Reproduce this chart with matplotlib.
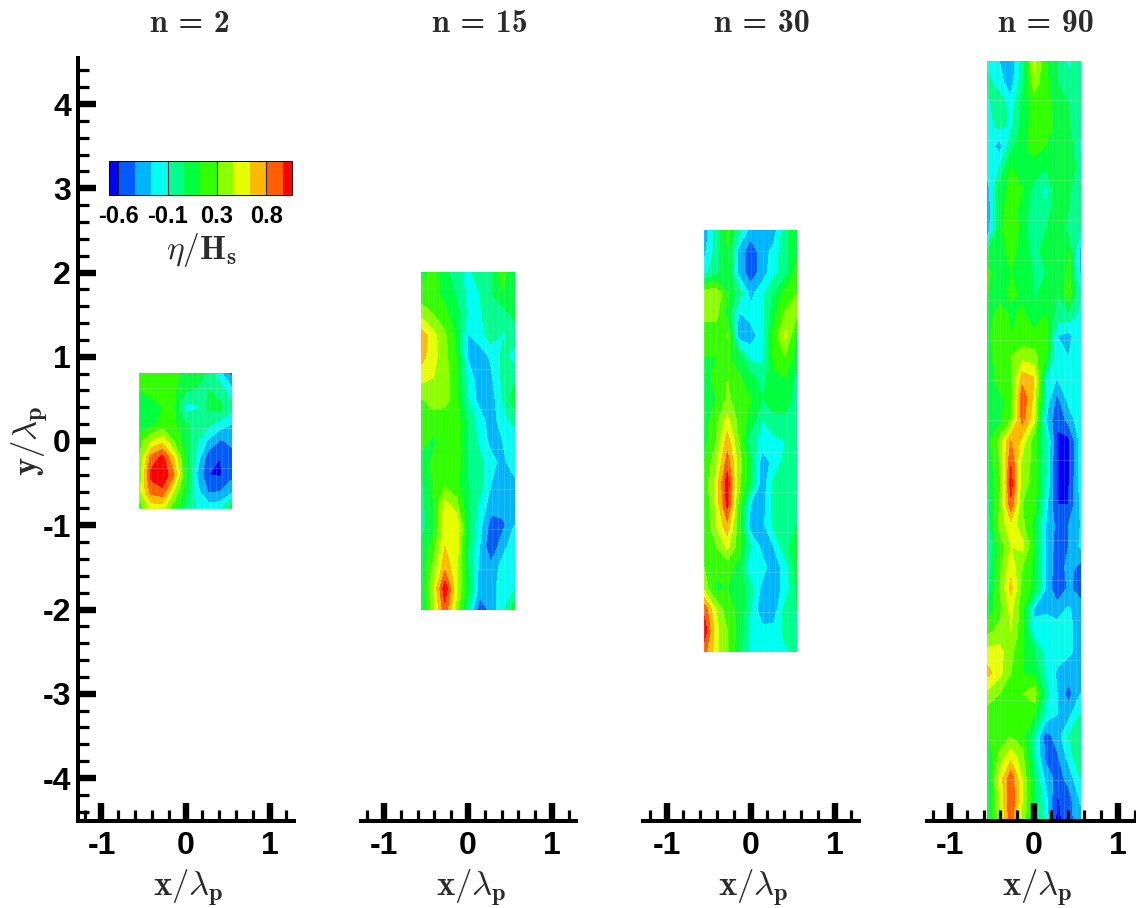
import numpy as np
import matplotlib
matplotlib.use("Agg")
import matplotlib.pyplot as plt
from matplotlib.colors import ListedColormap, BoundaryNorm
from matplotlib.colorbar import ColorbarBase

plt.rcParams['mathtext.fontset'] = 'cm'
plt.rcParams['font.family'] = ['Liberation Sans', 'DejaVu Sans']

W, H = 1136, 908

titles = ["n = 2", "n = 15", "n = 30", "n = 90"]
x_grid = [-0.55, -0.41, -0.275, -0.14, 0.0, 0.14, 0.275, 0.41, 0.55]

# y extent of each measured patch
y_tops = [0.8, 2.0, 2.5, 4.5]

levels = [-0.6, -0.45, -0.3, -0.15, 0.0, 0.15, 0.3, 0.45, 0.6, 0.75, 0.9]
colors = ["#0000ff", "#005aff", "#00b4ff", "#00fff0", "#00ff8c", "#00ff3c",
          "#32ff00", "#8cff00", "#e6ff00", "#ffb900", "#ff5f00", "#ff0000"]
bar_edges = [-0.68] + levels + [0.98]
bar_ticks = [-0.6, -0.15, 0.3, 0.75]
bar_labels = ["-0.6", "-0.1", "0.3", "0.8"]

# eta/Hs, rows from top to bottom
eta_n2 = [
    [0.2, 0.25, 0.22, 0.2, 0.1, 0.12, -0.05, -0.25, -0.5],
    [0.15, 0.18, 0.2, 0.18, 0.02, -0.03, 0.0, -0.08, -0.25],
    [0.05, 0.1, 0.15, 0.15, -0.22, -0.17, 0.03, 0.05, -0.1],
    [0.03, 0.1, 0.2, 0.18, 0.02, -0.05, -0.12, -0.22, -0.3],
    [0.25, 0.45, 0.55, 0.3, 0.05, -0.15, -0.33, -0.47, -0.42],
    [0.3, 0.8, 0.95, 0.6, 0.1, -0.22, -0.55, -0.6, -0.5],
    [0.35, 0.95, 1.05, 0.75, 0.15, -0.33, -0.6, -0.62, -0.5],
    [0.4, 0.8, 0.85, 0.45, 0.08, -0.25, -0.47, -0.45, -0.35],
    [0.2, 0.5, 0.5, 0.2, 0.0, -0.2, -0.22, -0.2, 0.1],
]
eta_n15 = [
    [0.1, 0.2, 0.05, -0.1, -0.2, -0.05, 0.0, 0.2, 0.05],
    [0.2, 0.22, 0.08, -0.02, -0.2, -0.15, 0.0, 0.15, 0.1],
    [0.4, 0.3, 0.2, 0.05, -0.18, -0.18, -0.02, -0.1, 0.05],
    [0.68, 0.5, 0.33, 0.12, -0.32, -0.22, -0.08, -0.17, -0.1],
    [0.65, 0.5, 0.35, 0.15, -0.32, -0.4, -0.27, -0.12, -0.2],
    [0.5, 0.45, 0.4, 0.15, -0.2, -0.4, -0.33, -0.12, -0.05],
    [0.3, 0.35, 0.38, 0.2, -0.15, -0.38, -0.38, -0.15, 0.1],
    [0.22, 0.25, 0.18, 0.25, -0.05, -0.22, -0.4, -0.2, -0.1],
    [0.2, 0.12, 0.2, 0.22, 0.0, -0.2, -0.35, -0.3, -0.25],
    [0.08, 0.18, 0.25, 0.25, -0.02, -0.1, -0.25, -0.35, -0.2],
    [-0.02, 0.18, 0.25, 0.2, 0.0, -0.08, -0.3, -0.32, -0.35],
    [-0.05, 0.15, 0.5, 0.35, 0.02, -0.18, -0.38, -0.35, -0.35],
    [-0.05, 0.1, 0.55, 0.6, 0.02, -0.25, -0.52, -0.5, -0.3],
    [0.03, 0.22, 0.6, 0.55, 0.0, -0.3, -0.6, -0.35, -0.22],
    [0.03, 0.35, 0.7, 0.5, 0.0, -0.35, -0.4, -0.25, -0.2],
    [0.05, 0.45, 1.0, 0.5, 0.05, -0.38, -0.38, -0.2, -0.18],
    [-0.03, 0.4, 0.85, 0.4, -0.1, -0.55, -0.4, -0.2, 0.1],
]
eta_n30 = [
    [-0.38, -0.1, 0.18, -0.1, -0.37, -0.4, -0.38, -0.05, 0.1],
    [-0.35, -0.08, 0.15, -0.35, -0.55, -0.38, -0.25, -0.05, 0.12],
    [-0.2, -0.05, 0.12, -0.35, -0.55, -0.38, -0.2, -0.05, 0.2],
    [0.4, 0.42, 0.15, -0.05, -0.35, -0.2, 0.0, 0.2, 0.3],
    [0.35, 0.35, 0.1, -0.32, -0.25, -0.2, 0.1, 0.32, 0.32],
    [0.2, 0.2, 0.32, -0.38, -0.38, -0.22, 0.2, 0.5, 0.1],
    [0.15, 0.15, 0.18, 0.05, -0.2, -0.2, 0.18, 0.3, 0.08],
    [0.08, 0.2, 0.3, 0.18, 0.05, -0.08, 0.12, 0.15, -0.05],
    [0.05, 0.15, 0.33, 0.22, 0.15, 0.0, 0.05, 0.05, -0.05],
    [0.08, 0.25, 0.5, 0.25, 0.1, -0.15, -0.02, -0.02, -0.05],
    [0.1, 0.3, 0.68, 0.3, -0.1, -0.2, -0.2, -0.15, -0.08],
    [0.15, 0.4, 0.82, 0.38, 0.05, -0.4, -0.25, -0.1, -0.1],
    [0.2, 0.5, 1.0, 0.35, 0.02, -0.4, -0.12, -0.05, -0.1],
    [0.15, 0.48, 0.95, 0.25, -0.3, -0.38, -0.1, -0.05, -0.08],
    [0.15, 0.45, 0.7, 0.2, -0.38, -0.35, -0.12, -0.05, 0.0],
    [0.18, 0.3, 0.5, 0.22, -0.15, -0.35, -0.3, -0.05, 0.08],
    [0.3, 0.22, 0.2, 0.1, -0.3, -0.25, -0.37, -0.25, 0.1],
    [0.4, 0.1, 0.15, 0.1, -0.1, -0.35, -0.38, -0.25, 0.03],
    [0.85, 0.45, 0.2, 0.12, -0.15, -0.42, -0.4, -0.1, 0.0],
    [1.0, 0.5, 0.3, 0.1, -0.2, -0.25, -0.25, -0.1, -0.02],
    [0.8, 0.5, 0.3, 0.05, -0.2, -0.22, -0.22, -0.18, -0.1],
]
eta_n90 = [
    [-0.2, -0.3, -0.4, -0.1, 0.5, 0.15, 0.0, -0.2, -0.05],
    [-0.1, -0.25, -0.38, -0.05, 0.38, 0.2, 0.0, -0.05, -0.05],
    [-0.2, -0.02, -0.25, 0.05, 0.2, 0.22, 0.05, 0.0, -0.05],
    [-0.2, -0.1, -0.18, 0.05, 0.22, 0.22, 0.1, 0.02, -0.1],
    [-0.2, -0.38, -0.05, 0.1, 0.22, 0.15, 0.15, 0.1, -0.18],
    [-0.2, -0.15, 0.15, 0.15, 0.08, 0.02, 0.15, 0.12, -0.1],
    [-0.35, 0.05, 0.2, 0.15, -0.05, -0.2, 0.15, 0.05, -0.15],
    [-0.42, 0.1, 0.22, 0.1, -0.1, -0.15, 0.15, 0.0, -0.15],
    [-0.38, 0.1, 0.28, 0.08, -0.12, 0.0, 0.1, -0.05, -0.15],
    [0.0, 0.08, 0.2, 0.08, -0.05, 0.05, 0.02, 0.15, -0.35],
    [0.18, 0.08, 0.15, 0.1, -0.02, 0.0, 0.02, 0.18, -0.32],
    [0.15, 0.05, 0.18, 0.12, -0.02, 0.05, 0.0, 0.25, -0.15],
    [0.05, 0.25, 0.12, 0.18, 0.05, 0.15, -0.05, -0.05, -0.18],
    [0.1, 0.3, 0.15, 0.2, 0.2, 0.25, -0.3, -0.35, -0.2],
    [0.1, 0.22, 0.3, 0.4, 0.35, 0.15, -0.28, -0.3, -0.2],
    [0.1, 0.2, 0.22, 0.68, 0.6, -0.15, -0.3, -0.2, -0.2],
    [0.12, 0.12, 0.2, 0.88, 0.55, -0.2, -0.5, -0.25, -0.2],
    [0.05, 0.1, 0.3, 0.8, 0.5, -0.3, -0.58, -0.4, -0.2],
    [0.1, 0.35, 0.75, 0.55, 0.2, -0.1, -0.62, -0.65, -0.25],
    [0.05, 0.3, 0.88, 0.4, 0.25, -0.12, -0.65, -0.65, -0.25],
    [0.0, 0.25, 0.98, 0.35, 0.25, -0.15, -0.62, -0.62, -0.25],
    [-0.05, 0.3, 0.85, 0.3, 0.2, -0.25, -0.6, -0.6, -0.28],
    [-0.1, 0.35, 0.55, 0.35, 0.1, -0.3, -0.5, -0.45, -0.3],
    [-0.15, 0.2, 0.45, 0.5, 0.15, -0.32, -0.52, -0.45, -0.28],
    [-0.1, 0.25, 0.55, 0.3, 0.1, -0.3, -0.55, -0.4, -0.5],
    [-0.1, 0.3, 0.65, 0.25, 0.1, -0.3, -0.62, -0.42, -0.52],
    [0.05, 0.25, 0.5, 0.2, -0.33, -0.33, -0.35, -0.28, -0.38],
    [0.25, 0.35, 0.45, 0.2, -0.25, -0.2, -0.25, -0.27, -0.35],
    [0.5, 0.5, 0.35, 0.15, 0.0, -0.2, -0.25, -0.27, -0.35],
    [0.65, 0.5, 0.3, 0.15, 0.1, -0.18, -0.32, -0.38, -0.3],
    [0.4, 0.3, 0.25, 0.3, 0.4, -0.1, -0.3, -0.52, -0.3],
    [0.2, 0.22, 0.2, 0.2, 0.15, -0.2, -0.3, -0.35, -0.15],
    [0.15, 0.2, 0.3, 0.22, -0.1, -0.52, -0.38, -0.15, 0.0],
    [0.02, 0.35, 0.55, 0.35, -0.1, -0.5, -0.48, -0.25, 0.0],
    [0.02, 0.5, 0.85, 0.45, 0.0, -0.35, -0.52, -0.4, -0.15],
    [0.02, 0.45, 0.88, 0.45, 0.05, -0.25, -0.62, -0.52, -0.28],
    [0.02, 0.4, 0.85, 0.4, 0.05, -0.2, -0.65, -0.52, -0.35],
]
panels = [eta_n2, eta_n15, eta_n30, eta_n90]

# pixel position of x = 0 in each panel
zero_px = [185.5, 468, 750.5, 1034]
label_color = "#2b2b2b"


def px_axes(fig, left, top, right, bottom):
    return fig.add_axes([left / W, 1 - bottom / H, (right - left) / W, (bottom - top) / H])


fig = plt.figure(figsize=(W / 100, H / 100), dpi=100)

for i, eta in enumerate(panels):
    ax = px_axes(fig, zero_px[i] - 107.5, 58, zero_px[i] + 108.5, 821)
    z = np.array(eta)
    y = np.linspace(y_tops[i], -y_tops[i], z.shape[0])
    ax.contourf(x_grid, y, z, levels=levels, colors=colors, extend='both')

    # faint pale mesh lines show through the filled contours in the original
    ax.hlines(np.arange(-y_tops[i], y_tops[i], 0.475), x_grid[0], x_grid[-1],
              color='white', alpha=0.2, lw=0.7, zorder=1.5)
    ax.vlines(np.arange(x_grid[0], x_grid[-1], 0.07), -y_tops[i], y_tops[i],
              color='white', alpha=0.15, lw=0.7, zorder=1.5)

    ax.set_xlim(-107.5 / 84, 108.5 / 84)
    ax.set_ylim(-380 / 84.25, 383 / 84.25)
    ax.patch.set_alpha(0)

    for side in ['top', 'right']:
        ax.spines[side].set_visible(False)
    ax.spines['bottom'].set_linewidth(2.9)
    ax.spines['left'].set_linewidth(2.9)

    ax.set_xticks([-1, 0, 1])
    ax.set_xticks([-1.2, -0.8, -0.6, -0.4, -0.2, 0.2, 0.4, 0.6, 0.8, 1.2], minor=True)
    ax.set_xticklabels(["-1", "0", "1"], fontweight='bold', fontsize=23)
    ax.tick_params(axis='x', which='major', direction='in', length=13, width=4.6, pad=7)
    ax.tick_params(axis='x', which='minor', direction='in', length=7.8, width=2.3)

    if i == 0:
        ax.set_yticks([-4, -3, -2, -1, 0, 1, 2, 3, 4])
        ax.set_yticks([v / 10 for v in range(-44, 46, 2) if v % 10 != 0], minor=True)
        ax.set_yticklabels(["-4", "-3", "-2", "-1", "0", "1", "2", "3", "4"],
                           fontweight='bold', fontsize=23)
        ax.tick_params(axis='y', which='major', direction='in', length=13, width=4.6, pad=5)
        ax.tick_params(axis='y', which='minor', direction='in', length=7.8, width=2.3)
    else:
        ax.spines['left'].set_visible(False)
        ax.set_yticks([])

    # titles start at the same offset from x = 0 in every panel
    fig.text((zero_px[i] - 36) / W, 1 - 24 / H, titles[i], family='cmb10',
             ha='left', va='center', fontsize=23, color=label_color)
    fig.text((zero_px[i] + 3) / W, 1 - 888 / H, r'$\mathbf{x}/\lambda_{\mathbf{p}}$',
             ha='center', va='center', fontsize=25, color=label_color)

fig.text(30 / W, 1 - 441 / H, r'$\mathbf{y}/\lambda_{\mathbf{p}}$', rotation=90,
         ha='center', va='center', fontsize=25, color=label_color)

# colour bar sits inside the first panel
cax = px_axes(fig, 109.3, 160.7, 291.7, 195)
cmap = ListedColormap(colors)
norm = BoundaryNorm(bar_edges, cmap.N)
cb = ColorbarBase(cax, cmap=cmap, norm=norm, orientation='horizontal',
                  spacing='proportional', ticks=bar_ticks)
cb.set_ticklabels(bar_labels, fontweight='bold', fontsize=17)
cb.minorticks_off()
cb.outline.set_linewidth(0.7)
cax.tick_params(axis='x', which='major', direction='in', length=24.5, width=0.8, pad=7, color='#222222')
fig.text(202 / W, 1 - 250 / H, r'$\eta/\mathbf{H_s}$', ha='center', va='center',
         fontsize=24, color=label_color)

fig.savefig("out.png", dpi=100)
